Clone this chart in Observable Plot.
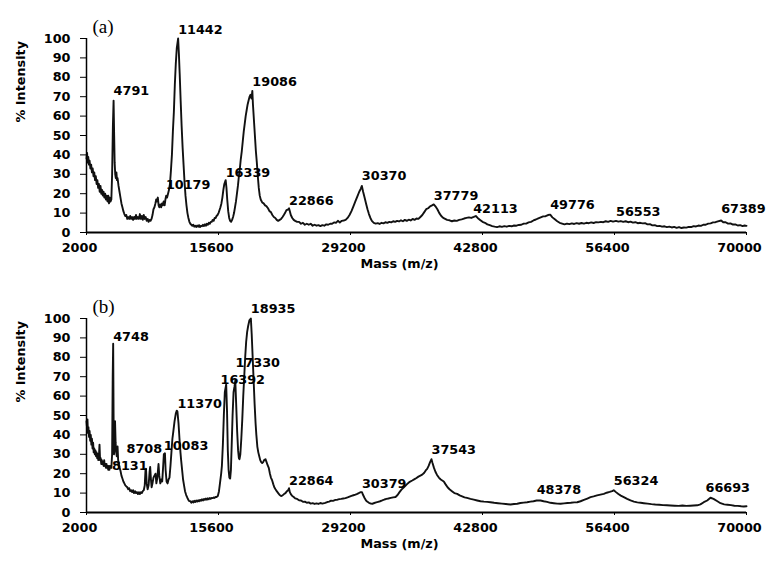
<!DOCTYPE html>
<html>
<head>
<meta charset="utf-8">
<script src="https://cdn.jsdelivr.net/npm/d3@7"></script>
<script src="https://cdn.jsdelivr.net/npm/@observablehq/plot@0.6"></script>
<style>
  html, body { margin: 0; padding: 0; background: #fff; }
  svg { display: block; }
</style>
</head>
<body>
<div id="chart"></div>
<script>
// ---------- data ----------
const xTicks = [2000, 15600, 29200, 42800, 56400, 70000];
const yTicks = [0, 10, 20, 30, 40, 50, 60, 70, 80, 90, 100];

// panel (a) spectrum: [mass, % intensity]
const spectrumA = [
[2000,38],[2060,41],[2120,36],[2180,39],[2250,35],[2320,37],[2400,33],[2480,35],[2560,31],[2640,33],
[2720,29],[2800,31],[2880,27],[2960,29],[3040,25],[3120,27],[3200,23],[3280,25],[3360,21],[3440,24],
[3520,20],[3600,22],[3680,19],[3760,21],[3840,18],[3920,20],[4000,17],[4080,19],[4160,16],[4240,19],
[4320,15],[4400,18],[4480,16],[4560,17],[4640,30],[4720,55],[4791,68],[4850,50],[4900,36],[4960,30],
[5020,28],[5080,31],[5140,27],[5200,28],[5300,24],[5400,21],[5500,18],[5600,15],[5700,13],[5800,11],
[5900,9.5],[6000,8.5],[6100,9],[6200,7],[6300,8],[6400,7],[6500,8.5],[6600,7],[6700,8],[6800,6.5],
[6900,8],[7000,7],[7100,9],[7200,7],[7300,8],[7400,7],[7500,9.5],[7600,7],[7700,8.5],[7800,6.5],
[7900,9],[8000,7],[8100,8],[8200,6],[8300,7],[8400,5.5],[8500,6.5],[8600,6],[8700,7],[8800,9],
[8900,12],[9000,13],[9100,15],[9180,17],[9260,16],[9350,18],[9430,14],[9500,13],[9600,14.5],[9690,13],
[9780,15],[9860,14],[9950,16],[10050,14],[10130,17],[10210,19],[10300,18],[10400,20],[10500,22],[10600,25],
[10700,32],[10800,40],[10900,52],[11000,62],[11100,76],[11200,87],[11300,95],[11442,100],[11520,92],[11600,82],
[11700,68],[11800,55],[11900,44],[12000,35],[12100,26],[12200,19],[12300,14],[12400,10],[12500,7.5],[12600,5.5],
[12700,4.5],[12800,4],[12900,3.5],[13000,4],[13100,3],[13200,3.5],[13300,2.8],[13400,3.6],[13500,3],[13600,3.8],
[13700,2.8],[13800,3.5],[13900,3.2],[14000,4],[14100,3.3],[14200,4.2],[14300,3.5],[14400,4.5],[14500,4],[14600,5],
[14700,4.5],[14800,5.5],[14900,5.5],[15000,6.5],[15100,6],[15200,7.5],[15300,7.5],[15400,8.5],[15500,9],[15600,10],
[15700,11.5],[15800,13],[15900,15],[16000,18],[16100,22],[16200,25],[16339,27],[16420,23],[16500,17],[16600,11],
[16700,7.5],[16800,6],[16900,5.5],[17000,6.5],[17100,8],[17200,10],[17300,13],[17400,16],[17500,20],[17600,24],
[17700,29],[17800,33],[17900,38],[18000,42],[18100,47],[18200,52],[18300,56],[18400,60],[18500,63],[18600,66],
[18700,68],[18800,70],[18900,71],[19000,69],[19086,73],[19150,66],[19250,58],[19350,50],[19450,42],[19550,36],
[19650,29],[19750,23],[19850,19],[19950,17],[20100,15.5],[20250,15],[20400,14],[20550,13.5],[20700,12.5],[20850,11],
[21000,10.5],[21150,9],[21300,8],[21450,7.5],[21600,6.5],[21750,6],[21900,6.5],[22050,7],[22200,8],[22330,9],
[22450,10],[22600,11.5],[22750,11.8],[22866,12.5],[22950,11],[23050,9],[23200,7.5],[23350,6.5],[23500,6],[23700,5.5],
[23900,5.5],[24100,4.5],[24300,5],[24500,4],[24700,4.5],[24900,4],[25100,4.5],[25300,3.5],[25500,4],[25700,3.5],
[25900,3.8],[26100,3.3],[26300,3.8],[26500,3.5],[26700,4.2],[26900,4],[27100,4.5],[27300,4.5],[27500,5.2],[27700,5],
[27900,6],[28100,5.2],[28300,6],[28500,6.2],[28700,6.5],[28900,7.5],[29100,9],[29300,11],[29500,13.5],[29700,16],
[29900,18.5],[30100,21],[30250,22.5],[30370,24],[30500,21],[30650,18],[30800,15],[30950,12],[31100,9.5],[31250,7.5],
[31400,6],[31600,5],[31800,4.6],[32000,4.8],[32200,4.4],[32400,5],[32600,4.7],[32800,5.3],[33000,5],[33200,5.5],
[33400,5.2],[33600,5.8],[33800,5.5],[34000,6],[34200,5.7],[34400,6.3],[34600,5.8],[34800,6.5],[35000,6],[35200,6.6],
[35400,6.2],[35600,7],[35800,6.5],[36000,7.2],[36200,7],[36400,8],[36600,9],[36800,10.5],[37000,12],[37200,12.5],
[37400,13.5],[37600,14],[37779,14.5],[37950,13.5],[38150,12],[38350,10],[38550,8.5],[38750,7.5],[38950,7],[39150,6.5],
[39400,6.3],[39650,5.8],[39900,6.2],[40150,6],[40400,6.5],[40650,6.8],[40900,7.2],[41150,7.5],[41400,7.8],[41650,7.5],
[41900,8],[42113,8.5],[42300,7.5],[42550,6.5],[42800,5.5],[43050,5],[43300,4.2],[43550,3.8],[43800,3.3],[44050,3],
[44300,2.8],[44550,3.2],[44800,2.9],[45050,3.3],[45300,3],[45550,3.4],[45800,3.2],[46050,3.6],[46300,3.5],[46550,3.9],
[46800,4],[47050,4.6],[47300,4.6],[47550,5.2],[47800,5.5],[48050,6.2],[48300,6.7],[48550,7.3],[48800,7.8],[49050,8.3],
[49300,8.4],[49550,9],[49776,9.2],[50000,7.8],[50250,6.8],[50500,5.8],[50750,5],[51000,4.6],[51250,4.2],[51500,4.6],
[51750,4.3],[52000,4.7],[52250,4.4],[52500,4.8],[52750,4.5],[53000,4.9],[53250,4.6],[53500,5],[53750,4.8],[54000,5.2],
[54250,4.9],[54500,5.3],[54750,5.2],[55000,5.5],[55250,5.3],[55500,5.8],[55750,5.5],[56000,6],[56250,5.6],[56553,6],
[56800,5.6],[57050,5.9],[57300,5.5],[57550,5.8],[57800,5.3],[58050,5.6],[58300,5.1],[58550,5.3],[58800,4.8],[59050,5],
[59300,4.7],[59550,4.8],[59800,4.2],[60050,4.3],[60300,3.7],[60550,3.8],[60800,3.3],[61050,3.4],[61300,3],[61550,3.2],
[61800,2.8],[62050,3],[62300,2.6],[62550,2.9],[62800,2.4],[63050,2.8],[63300,2.3],[63550,2.6],[63800,2.5],[64050,2.9],
[64300,2.8],[64550,3.3],[64800,3.1],[65050,3.6],[65300,3.4],[65550,4],[65800,4],[66050,4.6],[66300,4.7],[66550,5.2],
[66800,5.3],[67050,5.7],[67389,6.2],[67600,5.3],[67850,5.3],[68100,4.6],[68350,4.7],[68600,4.1],[68850,4.2],[69100,3.6],
[69350,3.8],[69600,3.3],[69800,3.6],[70000,3.4]
];

// panel (b) spectrum: [mass, % intensity]
const spectrumB = [
[2000,47],[2050,44],[2100,48],[2150,41],[2200,44],[2260,39],[2320,42],[2380,37],[2440,40],[2500,35],
[2560,38],[2620,33],[2680,36],[2740,31],[2800,33],[2860,30],[2920,32],[2980,29],[3040,31],[3100,28],
[3160,30],[3220,27],[3280,29],[3340,35],[3400,27],[3460,28],[3520,25],[3580,27],[3640,25],[3700,26],
[3760,24],[3820,27],[3880,24],[3940,25],[4000,23],[4060,25],[4120,23],[4180,24],[4240,22],[4300,24],
[4360,22],[4420,24],[4480,23],[4560,23],[4640,30],[4700,70],[4748,87],[4790,50],[4830,30],[4880,33],
[4940,47],[5000,36],[5060,31],[5120,29],[5200,34],[5260,27],[5340,25],[5420,23],[5500,21.5],[5600,19],
[5700,17.5],[5800,16],[5900,15],[6000,14],[6100,13.5],[6200,13],[6300,12],[6400,12.5],[6500,11],[6600,11.5],
[6700,10.5],[6800,11.5],[6900,10],[7000,11],[7100,10],[7200,10.5],[7300,9.5],[7400,10.5],[7500,9.5],[7600,10.5],
[7700,10],[7800,11],[7900,11.5],[8000,14],[8080,22],[8131,22.5],[8200,15],[8300,12],[8400,14],[8500,21],
[8560,23.5],[8640,17],[8708,13],[8800,15],[8900,18],[9000,19],[9110,20],[9200,15],[9300,18],[9420,25],
[9500,19],[9600,15],[9700,17],[9800,16],[9900,24],[9970,30],[10083,30.5],[10150,22],[10250,16],[10350,15],
[10450,17],[10550,18],[10650,24],[10750,31],[10850,38],[10950,42],[11070,47],[11200,51],[11300,52.5],[11370,52],
[11480,46],[11580,38],[11680,31],[11750,27],[11850,22],[11950,17],[12050,14],[12150,11],[12270,9],[12400,7.5],
[12550,6],[12700,5.8],[12800,5],[12900,5.8],[13000,5.2],[13100,6],[13200,5.4],[13300,6.2],[13400,5.6],[13500,6.3],
[13600,5.8],[13700,6.5],[13800,6],[13900,6.8],[14000,6.2],[14100,7],[14200,6.5],[14300,7.2],[14400,6.6],[14500,7.3],
[14600,6.8],[14700,7.5],[14800,7],[14900,7.5],[15000,7.4],[15100,7.8],[15200,7.5],[15300,8],[15400,8],[15530,8.5],
[15650,11],[15750,15],[15875,20],[15950,24],[16050,35],[16150,50],[16250,62],[16392,66],[16480,52],[16560,32],
[16640,22],[16720,18],[16800,17.5],[16880,22],[16960,35],[17050,50],[17150,62],[17250,65],[17330,68],[17420,56],
[17520,42],[17620,32],[17700,28],[17765,27.5],[17850,30],[17950,38],[18050,48],[18150,60],[18250,70],[18350,80],
[18450,88],[18550,93],[18650,96],[18780,99],[18935,100],[19020,92],[19120,80],[19220,68],[19320,56],[19420,46],
[19500,40],[19600,34],[19700,31],[19800,29],[19900,27],[20000,26],[20100,25.5],[20200,26],[20300,27],[20440,27.5],
[20550,26],[20650,24.5],[20780,23],[20900,20],[21000,18],[21130,16.5],[21250,14.5],[21350,13],[21470,12],[21600,11],
[21750,10],[21900,9],[22050,8.5],[22200,8.8],[22350,9.5],[22500,10],[22650,11],[22780,11.5],[22864,12.5],[22950,10.5],
[23050,9.5],[23200,8.5],[23350,8],[23500,7.3],[23700,7],[23900,6.3],[24100,6.2],[24300,5.5],[24500,5.6],[24700,5],
[24900,5.2],[25100,4.6],[25300,4.8],[25500,4.4],[25700,4.7],[25900,4.4],[26100,4.9],[26300,4.6],[26600,5],[26800,5.4],
[27000,5.6],[27200,6.1],[27400,6],[27650,6.5],[27850,6.6],[28050,6.9],[28250,7],[28450,7.2],[28680,7.4],[28900,7.8],
[29100,8.2],[29300,8.6],[29500,8.9],[29710,9.2],[29900,9.6],[30050,10],[30150,10.3],[30260,10.5],[30379,10.5],[30500,9],
[30650,7.5],[30800,6.2],[30950,5.5],[31100,5],[31300,4.6],[31450,4.5],[31650,4.9],[31850,5.2],[32050,5.5],[32250,5.8],
[32470,6.2],[32700,6.7],[32900,7],[33100,7.2],[33350,7.5],[33600,7.8],[33840,8],[34050,9],[34250,10.5],[34450,11.8],
[34700,13],[34900,14],[35100,15],[35300,15.8],[35560,16.5],[35800,17.2],[36000,17.8],[36200,18.5],[36400,19],[36590,19.5],
[36800,20.5],[37000,22],[37100,22.5],[37250,24],[37400,26],[37543,27.5],[37650,25.5],[37800,23],[37950,21],[38100,19.5],
[38300,18],[38500,17],[38810,16],[39000,14.5],[39200,13],[39400,12],[39650,11],[39900,10],[40190,9.6],[40450,8.8],
[40700,8.3],[40950,7.8],[41200,7.5],[41560,7],[41900,6.6],[42250,6.2],[42600,5.8],[42950,5.6],[43300,5.5],[43620,5.3],
[44000,5],[44400,4.8],[44800,4.6],[45200,4.4],[45690,4.1],[46050,4.4],[46380,4.5],[46700,4.9],[47050,5.1],[47400,5.3],
[47750,5.6],[48050,5.8],[48378,6.2],[48780,6.2],[49100,5.8],[49450,5.5],[49800,5],[50150,4.8],[50500,4.6],[50840,4.5],
[51200,4.7],[51550,4.9],[51900,5],[52250,5.2],[52560,5.3],[52900,5.8],[53250,6.5],[53600,7.2],[53930,7.9],[54250,8.3],
[54600,8.8],[54950,9.2],[55300,9.6],[55600,10.2],[55900,10.6],[56160,11],[56324,11.5],[56550,10.5],[56800,9.5],[57050,8.7],
[57360,7.9],[57700,7],[58050,6.2],[58400,5.6],[58750,5.2],[59100,5],[59420,4.8],[59800,4.6],[60200,4.3],[60600,4.1],
[61000,4],[61400,3.8],[61800,3.7],[62170,3.6],[62600,3.5],[63000,3.4],[63400,3.6],[63800,3.4],[64200,3.5],[64550,3.6],
[64920,3.7],[65250,4.2],[65600,5.3],[65950,6.2],[66290,7.6],[66600,7],[67000,5.8],[67320,4.8],[67700,4.2],[68050,4],
[68400,3.8],[68750,3.5],[69100,3.4],[69450,3.2],[69720,3.1],[70000,3.2]
];

// peak annotations (text, mass position of label's left edge, intensity position of label centre)
const labelsA = ["4791", "11442", "19086", "10179", "16339", "22866", "30370", "37779", "42113", "49776", "56553", "67389"];
const labelXA = [4791, 11442, 19086, 10179, 16339, 22866, 30370, 37779, 41840, 49776, 56553, 67389];
const labelYA = [73, 104.5, 77.5, 24.6, 30.6, 16.5, 29.4, 19, 12.2, 14.4, 10.8, 12.2];

const labelsB = ["4748", "8131", "8708", "10083", "11370", "16392", "17330", "18935", "22864", "30379", "37543", "48378", "56324", "66693"];
const labelXB = [4748, 4630, 6121, 9965, 11370, 15806, 17350, 18935, 22864, 30379, 37543, 48378, 56324, 65775];
const labelYB = [90.7, 24.2, 32.8, 34.5, 56, 68.6, 77, 105, 16.5, 14.8, 32.3, 11.7, 16.5, 12.7];

const panelTags = ["(a)", "(b)"];
const xTitle = "Mass (m/z)";
const yTitle = "% Intensity";

// ---------- drawing ----------
function panel(spectrum, labels, lx, ly, tag) {
  const pts = spectrum.map(([m, v]) => ({m, v}));
  const ann = labels.map((t, i) => ({t, x: lx[i], y: ly[i]}));
  return Plot.plot({
    width: 777,
    height: 280,
    marginLeft: 86,
    marginRight: 31,
    marginTop: 38,
    marginBottom: 48,
    style: {fontFamily: "DejaVu Sans", fontSize: "12.8px", fontWeight: "bold", color: "black", background: "white", overflow: "visible"},
    x: {domain: [2000, 70000]},
    y: {domain: [0, 100]},
    marks: [
      Plot.axisY({ticks: yTicks, tickSize: 6, tickPadding: 10, tickFormat: d => String(d), label: null, strokeWidth: 1}),
      Plot.axisX({ticks: xTicks, tickSize: 3, tickFormat: () => "", label: null}),
      Plot.axisX({ticks: xTicks, tickSize: 0, tickPadding: 10, dx: -7, tickFormat: d => String(d), label: null}),
      Plot.line(pts, {x: "m", y: "v", stroke: "#111", strokeWidth: 1.9, strokeLinejoin: "round"}),
      Plot.ruleX([2000], {stroke: "black", strokeWidth: 1.5}),
      Plot.ruleY([0], {stroke: "black", strokeWidth: 2}),
      Plot.text(ann, {x: "x", y: "y", text: "t", textAnchor: "start", fill: "black"}),
      Plot.text([xTitle], {frameAnchor: "bottom", dy: 35, dx: -17, fill: "black"}),
      Plot.text([yTitle], {frameAnchor: "left", dx: -66, dy: -13, rotate: -90, fill: "black"}),
      Plot.text([tag], {frameAnchor: "top-left", dx: 6, dy: -19, textAnchor: "start", fontFamily: "Liberation Serif", fontSize: 19, fontWeight: "normal", fill: "black"})
    ]
  });
}

const root = document.getElementById("chart");
root.appendChild(panel(spectrumA, labelsA, labelXA, labelYA, panelTags[0]));
root.appendChild(panel(spectrumB, labelsB, labelXB, labelYB, panelTags[1]));
</script>
</body>
</html>
